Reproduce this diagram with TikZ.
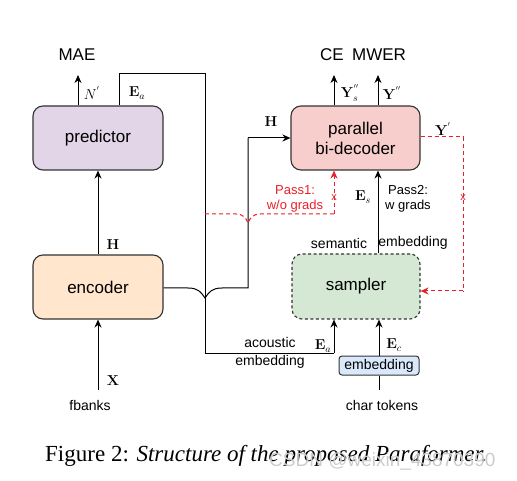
\documentclass[tikz,border=0pt]{standalone}
\usepackage{amsmath}
\usepackage[no-math]{fontspec}
\setmainfont{Liberation Sans}
\newfontfamily\capfont{Liberation Serif}
\usetikzlibrary{arrows.meta}
\definecolor{bordc}{HTML}{333333}
\definecolor{predfill}{HTML}{E1D5E7}
\definecolor{encfill}{HTML}{FFE6CC}
\definecolor{decfill}{HTML}{F8CECC}
\definecolor{samfill}{HTML}{D5E8D4}
\definecolor{embfill}{HTML}{DAE8FC}
\definecolor{redl}{HTML}{E8202A}
\tikzset{
  blockbox/.style={draw=bordc, line width=1.1pt, rounded corners=10pt, minimum width=130pt, minimum height=64pt, inner sep=0pt, font=\fontsize{17}{20}\selectfont, align=center},
  arr/.style={line width=1pt, -{Stealth[length=8pt,width=7pt]}},
  plain/.style={line width=1pt},
  redarr/.style={line width=1pt, draw=redl, dash pattern=on 4pt off 3pt, -{Stealth[length=8pt,width=7pt]}},
  redline/.style={line width=1pt, draw=redl, dash pattern=on 4pt off 3pt},
  mlab/.style={font=\fontsize{14}{16}\selectfont, inner sep=0pt},
  slab/.style={font=\fontsize{14}{16}\selectfont, inner sep=0pt},
  plab/.style={font=\fontsize{13}{15.5}\selectfont, inner sep=0pt, align=center},
  xmark/.style={text=redl, font=\fontsize{11}{11}\selectfont, inner sep=0pt},
}
\begin{document}
\begin{tikzpicture}[x=1pt,y=-1pt]
\useasboundingbox (0,0) rectangle (517,481);
% blocks
\node[blockbox, fill=predfill] (pred) at (98,138) {predictor};
\node[blockbox, fill=encfill] (enc) at (98,287) {encoder};
\node[blockbox, fill=decfill, minimum width=129pt] (dec) at (355.5,138) {parallel\\bi-decoder};
\node[blockbox, fill=samfill, minimum width=128pt, minimum height=65pt, dash pattern=on 3pt off 2.5pt] (sam) at (356,286.5) {sampler};
\node[draw=bordc, line width=1pt, fill=embfill, rounded corners=3pt, minimum width=80pt, minimum height=19pt, inner sep=0pt, font=\fontsize{14}{16}\selectfont] (emb) at (379,365.5) {embedding};

% texts
\node[font=\fontsize{17}{20}\selectfont, inner sep=0pt] (mae) at (77,55) {MAE};
\node[font=\fontsize{17}{20}\selectfont, inner sep=0pt] (ce) at (363,55) {CE\enspace MWER};
\node[slab] (fb) at (90,405) {fbanks};
\node[slab] (ct) at (382,405) {char tokens};

% coordinates
\coordinate (maeA) at (78,75);
\coordinate (eaT) at (119,74);
\coordinate (eaR) at (205,74);
\coordinate (eaB) at (205,353);
\coordinate (eaS) at (334,353);
\coordinate (xin) at (98,390);
\coordinate (ysA) at (334,75);
\coordinate (yA) at (378,75);
\coordinate (ctin) at (379,390);
\coordinate (yR) at (463,137);
\coordinate (yRB) at (463,291);

% predictor output
\draw[arr] (pred.north -| maeA) -- (maeA);
\node[mlab] (nl) at (92,93) {$N^{'}$};
% E_a path
\draw[plain] (pred.north -| eaT) -- (eaT) -- (eaR) -- (eaB) -- (eaS);
\draw[arr] (eaS) -- (sam.south -| eaS);
\node[mlab] (eal) at (137,93) {$\mathbf{E}_a$};
% encoder -> predictor
\draw[arr] (enc.north) -- (pred.south);
\node[mlab] (hl) at (113,245) {$\mathbf{H}$};
% fbanks -> encoder
\draw[arr] (xin) -- (enc.south);
\node[mlab] (xl) at (113,381) {$\mathbf{X}$};
% encoder -> decoder with hop
\coordinate (h1) at (188,288);
\coordinate (h2) at (205,298);
\coordinate (h3) at (222,288);
\coordinate (hc) at (248,288);
\coordinate (ht) at (248,138);
\draw[plain] (enc.east |- h1) -- (h1) .. controls (198,288) and (201,292) .. (h2) .. controls (209,292) and (212,288) .. (h3) -- (hc) -- (ht);
\draw[arr] (ht) -- (dec.west);
\node[mlab] (hl2) at (271,122) {$\mathbf{H}$};
% decoder outputs
\draw[arr] (dec.north -| ysA) -- (ysA);
\draw[arr] (dec.north -| yA) -- (yA);
\node[mlab] (ysl) at (350,93) {$\mathbf{Y}^{''}_s$};
\node[mlab] (yl) at (392,93) {$\mathbf{Y}^{''}$};
% pass1
\coordinate (p0) at (205,214);
\coordinate (p1) at (236,214);
\coordinate (p2) at (248,223);
\coordinate (p3) at (260,214);
\coordinate (p4) at (334,214);
\draw[redline] (p0) -- (p1) .. controls (243,214) and (246,218) .. (p2) .. controls (250,218) and (253,214) .. (p3) -- (p4);
\draw[redarr] (p4) -- (dec.south -| p4);
\node[xmark] (x1) at (334,198) {x};
\node[plab, text=redl] (pass1) at (295,199) {Pass1:\\w/o grads};
% Y' feedback
\draw[redline] (dec.east |- yR) -- (yR) -- (yRB);
\draw[redarr] (yRB) -- (sam.east |- yRB);
\node[xmark] (x2) at (463,198) {x};
\node[mlab] (ypl) at (443,129) {$\mathbf{Y}^{'}$};
% E_s
\draw[arr] (sam.north -| yA) -- (dec.south -| yA);
\node[mlab] (esl) at (363,197) {$\mathbf{E}_s$};
\node[plab] (pass2) at (408,199) {Pass2:\\w grads};
\node[slab] (seml) at (339,243) {semantic};
\node[slab] (embl) at (413,243) {embedding};
% E_c
\draw[arr] (emb.north) -- (sam.south -| emb.north);
\draw[plain] (ctin) -- (emb.south);
\node[mlab] (ecl) at (394,345) {$\mathbf{E}_c$};
\node[mlab] (eal2) at (323,346) {$\mathbf{E}_a$};
\node[slab, align=center, font=\fontsize{14}{18}\selectfont] (acl) at (270,353) {acoustic\\embedding};
% caption
\node[anchor=west, inner sep=0pt, font=\capfont\fontsize{23}{26}\selectfont] (cap) at (45,456) {Figure 2: \textit{Structure of the proposed Paraformer.}};
\node[anchor=west, inner sep=0pt, text=black!20, font=\fontsize{19}{21}\selectfont] (wm) at (269,462) {CSDN @weixin\_43870390};
\end{tikzpicture}
\end{document}
